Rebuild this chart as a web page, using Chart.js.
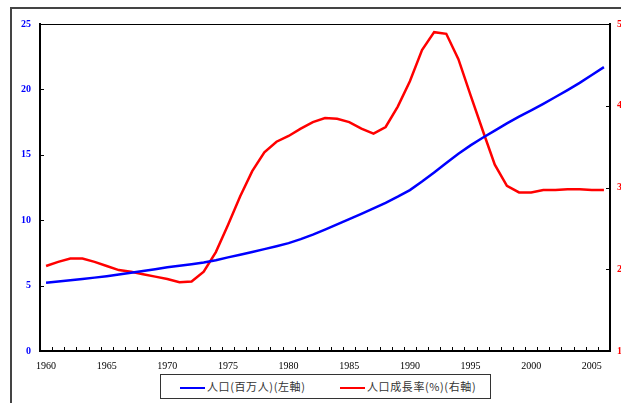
<!DOCTYPE html>
<html>
<head>
<meta charset="utf-8">
<script src="https://cdn.jsdelivr.net/npm/chart.js@4.4.0/dist/chart.umd.min.js"></script>
<style>
  html, body { margin: 0; padding: 0; background: #fff; overflow: hidden; }
  #marco { position: absolute; left: 10px; top: 7px; width: 700px; height: 500px;
           border-top: 2px solid #444; border-left: 2px solid #444; }
  #grafico { position: absolute; left: 0; top: 0; }
  #leyenda { position: absolute; left: 160px; top: 374px; width: 329px; height: 23px;
             border: 1px solid #333; background: #fff;
             font-family: "Noto Sans CJK JP", sans-serif; font-size: 11px; color: #333; }
  .item { position: absolute; top: 4px; line-height: 14px; white-space: nowrap; letter-spacing: 0.6px; }
  .linea { display: inline-block; width: 25px; height: 2.5px; vertical-align: middle; margin-right: 2px; }
</style>
</head>
<body>
<div id="marco"></div>
<canvas id="grafico" width="621" height="403"></canvas>
<div id="leyenda">
  <div class="item" style="left:19px"><span class="linea" style="background:#0000ff"></span>人口(百万人)(左軸)</div>
  <div class="item" style="left:179px"><span class="linea" style="background:#ff0000"></span>人口成長率(%)(右軸)</div>
</div>
<script>
// Años (categorías)
const anios = [1960, 1961, 1962, 1963, 1964, 1965, 1966, 1967, 1968, 1969,
               1970, 1971, 1972, 1973, 1974, 1975, 1976, 1977, 1978, 1979,
               1980, 1981, 1982, 1983, 1984, 1985, 1986, 1987, 1988, 1989,
               1990, 1991, 1992, 1993, 1994, 1995, 1996, 1997, 1998, 1999,
               2000, 2001, 2002, 2003, 2004, 2005, 2006];

// Población (millones) - eje izquierdo
const poblacion = [5.22, 5.31, 5.41, 5.50, 5.61, 5.72, 5.85, 5.98, 6.11, 6.25,
                   6.40, 6.52, 6.64, 6.77, 6.94, 7.16, 7.36, 7.57, 7.79, 8.01,
                   8.25, 8.55, 8.90, 9.28, 9.68, 10.08, 10.48, 10.90, 11.33, 11.80,
                   12.30, 12.95, 13.65, 14.38, 15.08, 15.72, 16.30, 16.85, 17.40, 17.92,
                   18.40, 18.90, 19.42, 19.95, 20.50, 21.10, 21.70];

// Tasa de crecimiento (%) - eje derecho
const crecimiento = [2.04, 2.09, 2.13, 2.13, 2.09, 2.04, 1.99, 1.97, 1.94, 1.91,
                     1.88, 1.84, 1.85, 1.97, 2.21, 2.54, 2.89, 3.20, 3.43, 3.56,
                     3.63, 3.72, 3.80, 3.85, 3.84, 3.80, 3.72, 3.66, 3.74, 3.99,
                     4.30, 4.68, 4.90, 4.88, 4.57, 4.13, 3.70, 3.28, 3.02, 2.94,
                     2.94, 2.97, 2.97, 2.98, 2.98, 2.97, 2.97];

// Etiquetas del eje X
const etiquetasX = [1960, 1965, 1970, 1975, 1980, 1985, 1990, 1995, 2000, 2005];

// Marco superior y marcas hacia dentro
const marcoPlugin = {
  id: 'marco',
  afterDraw(chart) {
    const ctx = chart.ctx;
    const a = chart.chartArea;
    const x = chart.scales.x, yi = chart.scales.y, yd = chart.scales.y2;
    ctx.save();
    ctx.strokeStyle = '#000';
    ctx.lineWidth = 1;
    ctx.beginPath();
    ctx.moveTo(a.left, a.top + 0.5);
    ctx.lineTo(a.right, a.top + 0.5);
    ctx.stroke();
    ctx.lineWidth = 1;
    ctx.beginPath();
    for (let i = 0; i < anios.length - 1; i++) {
      const px = Math.round((x.getPixelForValue(i) + x.getPixelForValue(i + 1)) / 2) + 0.5;
      ctx.moveTo(px, a.bottom);
      ctx.lineTo(px, a.bottom - 4);
    }
    [5, 10, 15, 20].forEach(v => {
      const py = Math.round(yi.getPixelForValue(v)) + 0.5;
      ctx.moveTo(a.left, py);
      ctx.lineTo(a.left + 4, py);
    });
    [2, 3, 4].forEach(v => {
      const py = Math.round(yd.getPixelForValue(v)) + 0.5;
      ctx.moveTo(a.right, py);
      ctx.lineTo(a.right - 4, py);
    });
    ctx.stroke();
    ctx.restore();
  }
};

const ctx = document.getElementById('grafico').getContext('2d');
const grafico = new Chart(ctx, {
  type: 'line',
  data: {
    labels: anios,
    datasets: [
      {
        label: '人口(百万人)(左軸)',
        data: poblacion,
        borderColor: '#0000ff',
        borderWidth: 2.5,
        pointRadius: 0,
        tension: 0,
        fill: false,
        yAxisID: 'y'
      },
      {
        label: '人口成長率(%)(右軸)',
        data: crecimiento,
        borderColor: '#ff0000',
        borderWidth: 2.5,
        pointRadius: 0,
        tension: 0,
        fill: false,
        yAxisID: 'y2'
      }
    ]
  },
  options: {
    responsive: false,
    animation: false,
    layout: { padding: { top: 24, bottom: 32, left: 0, right: 0 } },
    plugins: { legend: { display: false }, tooltip: { enabled: false } },
    scales: {
      x: {
        type: 'category',
        offset: true,
        grid: { drawOnChartArea: false, drawTicks: false },
        border: { display: true, color: '#000', width: 2 },
        ticks: {
          autoSkip: false,
          maxRotation: 0,
          padding: 9,
          color: '#000',
          font: { family: 'Liberation Serif', size: 10 },
          callback: function (val, i) {
            return etiquetasX.includes(anios[i]) ? String(anios[i]) : '';
          }
        },
        afterFit(scale) { scale.height = 20; }
      },
      y: {
        position: 'left',
        min: 0,
        max: 25,
        grid: { drawOnChartArea: false, drawTicks: false },
        border: { display: true, color: '#000', width: 2 },
        ticks: {
          stepSize: 5,
          padding: 9,
          color: '#0000ff',
          font: { family: 'Liberation Serif', size: 10, weight: 'bold' }
        },
        afterFit(scale) { scale.width = 40; }
      },
      y2: {
        position: 'right',
        min: 1,
        max: 5,
        grid: { drawOnChartArea: false, drawTicks: false },
        border: { display: true, color: '#000', width: 2 },
        ticks: {
          stepSize: 1,
          padding: 7,
          color: '#ff0000',
          font: { family: 'Liberation Serif', size: 10, weight: 'bold' }
        },
        afterFit(scale) { scale.width = 11; }
      }
    }
  },
  plugins: [marcoPlugin]
});
</script>
</body>
</html>
